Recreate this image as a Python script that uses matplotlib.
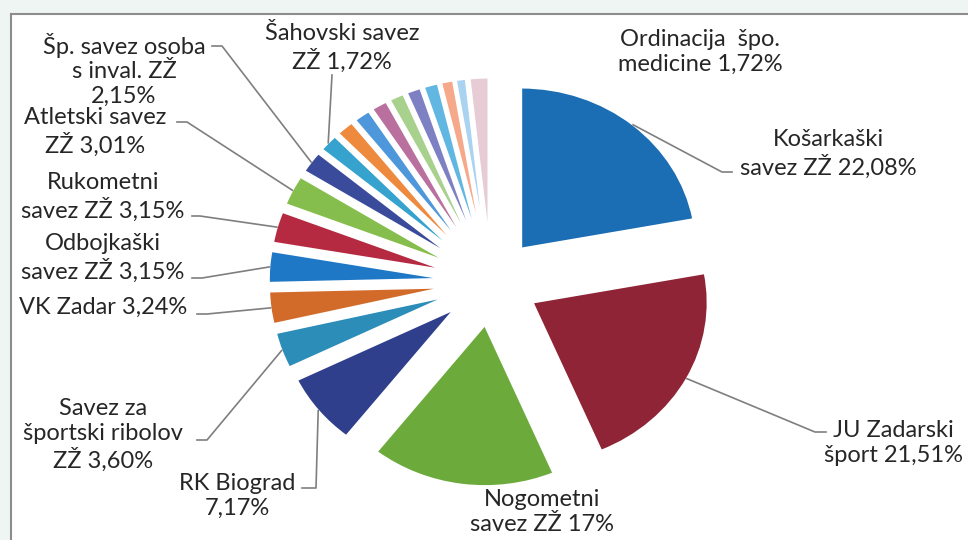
import numpy as np
import matplotlib
matplotlib.use("Agg")
import matplotlib.pyplot as plt

plt.rcParams['font.family'] = ['Lato', 'DejaVu Sans']

# udjeli (%) - redom u smjeru kazaljke od vrha
names = ["Košarkaški\nsavez ZŽ 22,08%", "JU Zadarski\nšport 21,51%", "Nogometni\nsavez ZŽ 17%",
         "RK Biograd\n7,17%", "Savez za\nšportski ribolov\nZŽ 3,60%", "VK Zadar 3,24%",
         "Odbojkaški\nsavez ZŽ 3,15%", "Rukometni\nsavez ZŽ 3,15%", "Atletski savez\nZŽ 3,01%",
         "Šp. savez osoba\ns inval. ZŽ\n2,15%", "Šahovski savez\nZŽ 1,72%",
         "", "", "", "", "", "", "", "",
         "Ordinacija  špo.\nmedicine 1,72%"]
values = [22.08, 21.51, 17.0, 7.17, 3.60, 3.24, 3.15, 3.15, 3.01, 2.15, 1.72,
          1.6, 1.5, 1.45, 1.35, 1.3, 1.3, 1.1, 0.9, 1.72]
colors = ["#1B6EB3", "#8E2435", "#6DAA3C", "#2F3F8C", "#2B8DB8", "#D26A2A", "#1E78C6",
          "#B52A41", "#86BE4E", "#3B4B9C", "#35A3CE", "#EE8A3E", "#4D97DA", "#B9709E",
          "#A9D18E", "#7E80C4", "#62B6E2", "#F5A98A", "#A9D3F0", "#E7CCD6"]

# pixel layout helpers (pie centre at 491,282; radius 175 px wide, 161 px high)
CX, CY, RX, RY = 491, 282, 175, 161
W, H = 968, 540

def px(x, y):
    return (x - CX) / RX, (CY - y) / RY

# label centre, elbow points (pixels); None = no leader
label_pos = {
    0: ((828, 154), [(732, 172), (722, 172)]),
    1: ((893, 443), [(826, 432), (815, 432)]),
    2: ((542, 512), None),
    3: ((237, 496), [(302, 488), (316, 488)]),
    4: ((103, 435), [(197, 440), (207, 440)]),
    5: ((103, 307), [(197, 314), (207, 314)]),
    6: ((103, 258), [(192, 278), (202, 278)]),
    7: ((103, 197), [(192, 216), (200, 216)]),
    8: ((95, 132), [(177, 122), (187, 122)]),
    9: ((124, 70), [(212, 46), (222, 46)]),
    10: ((342, 48), [(332, 75)]),
    19: ((700, 52), None),
}

fig = plt.figure(figsize=(W / 100, H / 100), dpi=100)
fig.patch.set_facecolor("#EEF5F2")
ax = fig.add_axes([0, 0, 1, 1])
ax.set_facecolor("white")

# white chart area with a gray frame on top and left
fx0, fy0 = px(11, 14)
fx1, fy1 = px(W + 5, H + 5)
ax.add_patch(plt.Rectangle((fx0, fy1), fx1 - fx0, fy0 - fy1, facecolor="white",
                           edgecolor="none", zorder=0))
ax.plot([fx0, fx1], [fy0, fy0], color="#8C8C8C", lw=1.5, zorder=1)
ax.plot([fx0, fx0], [fy0, fy1], color="#8C8C8C", lw=1.5, zorder=1)

wedges, _ = ax.pie(values, colors=colors, startangle=90, counterclock=False,
                   explode=[0.27] * len(values),
                   wedgeprops=dict(edgecolor="white", linewidth=1.4))

for i, (pos, elbow) in label_pos.items():
    tx, ty = px(*pos)
    ax.text(tx, ty, names[i], ha="center", va="center", multialignment="center",
            fontsize=17, color="#262626", linespacing=1.2, zorder=5)
    if elbow is None:
        continue
    w = wedges[i]
    mid = np.deg2rad((w.theta1 + w.theta2) / 2)
    ax_, ay_ = w.center[0] + w.r * np.cos(mid), w.center[1] + w.r * np.sin(mid)
    pts = [px(*p) for p in elbow] + [(ax_, ay_)]
    ax.plot([p[0] for p in pts], [p[1] for p in pts], color="#7F7F7F", lw=1.2, zorder=4)

ax.set_aspect("auto")
ax.set_xlim(-CX / RX, (W - CX) / RX)
ax.set_ylim((CY - H) / RY, CY / RY)
ax.axis("off")

fig.savefig("out.png", dpi=100, facecolor=fig.get_facecolor())
